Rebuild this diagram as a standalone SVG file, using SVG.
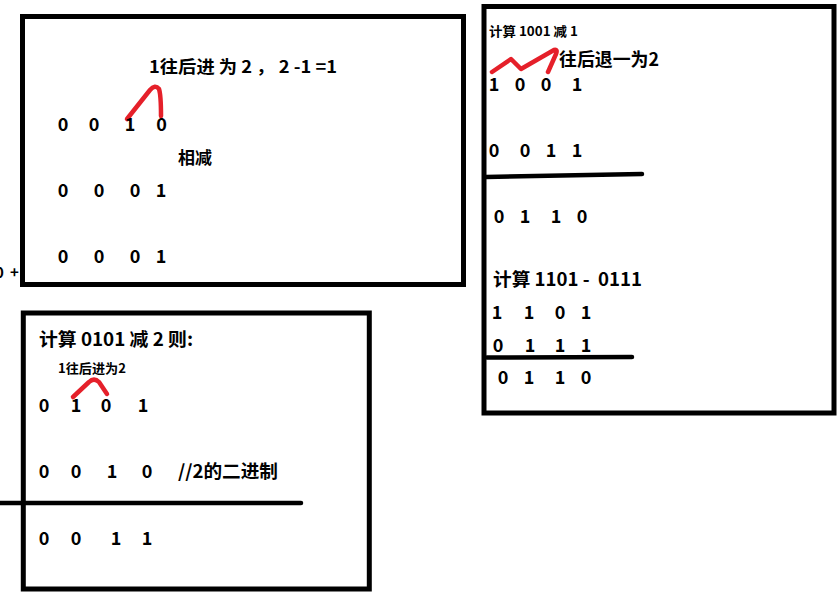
<svg xmlns="http://www.w3.org/2000/svg" width="839" height="592" viewBox="0 0 839 592">
<style>
.box{fill:none;stroke:#000;stroke-width:5}
.rule{fill:none;stroke:#000;stroke-width:4.5;stroke-linecap:round}
.red{fill:none;stroke:#e5202a;stroke-width:4.5;stroke-linecap:round;stroke-linejoin:round}
text{font-family:"Noto Sans CJK SC","Liberation Sans",sans-serif;font-weight:bold;fill:#000;font-size:18px}
.d{text-anchor:middle}
.s{font-size:13px}
</style>
<rect width="839" height="592" fill="#fff"/>

<g id="box1">
<rect class="box" x="22.5" y="16.5" width="441" height="268"/>
<text x="149" y="73" textLength="188" lengthAdjust="spacingAndGlyphs" style="font-size:17px">1往后进 为 2 ， 2 -1 =1</text>
<path class="red" d="M127,119 L150,90 Q155,84 159,89 Q161,95 161,116"/>
<text class="d" y="131" x="63">0</text>
<text class="d" y="131" x="94">0</text>
<text class="d" y="131" x="130">1</text>
<text class="d" y="131" x="161.5">0</text>
<text x="178" y="164" style="font-size:17px">相减</text>
<text class="d" y="197" x="63">0</text>
<text class="d" y="197" x="99">0</text>
<text class="d" y="197" x="135">0</text>
<text class="d" y="197" x="161">1</text>
<text class="d" y="263" x="63">0</text>
<text class="d" y="263" x="99">0</text>
<text class="d" y="263" x="135">0</text>
<text class="d" y="263" x="161">1</text>
<text x="-5 4 10" y="278" style="font-size:15px">0 +</text>
</g>

<g id="box2">
<rect class="box" x="484" y="6.5" width="350" height="406.5"/>
<text class="s" x="489" y="36" textLength="89" lengthAdjust="spacingAndGlyphs">计算 1001 减 1</text>
<path class="red" d="M492,72 L511,59 L521,69 L554,50 Q558,49 556,54 L548,72"/>
<text x="559" y="66" textLength="100" lengthAdjust="spacingAndGlyphs">往后退一为2</text>
<text class="d" y="91" x="494">1</text>
<text class="d" y="91" x="520">0</text>
<text class="d" y="91" x="546">0</text>
<text class="d" y="91" x="577">1</text>
<text class="d" y="157" x="494">0</text>
<text class="d" y="157" x="525">0</text>
<text class="d" y="157" x="551">1</text>
<text class="d" y="157" x="577">1</text>
<text class="d" y="223" x="499">0</text>
<text class="d" y="223" x="525">1</text>
<text class="d" y="223" x="556">1</text>
<text class="d" y="223" x="582">0</text>
<text x="493" y="286" textLength="149" lengthAdjust="spacingAndGlyphs" style="white-space:pre">计算 1101 -  0111</text>
<text class="d" y="319" x="497">1</text>
<text class="d" y="319" x="529">1</text>
<text class="d" y="319" x="560">0</text>
<text class="d" y="319" x="586">1</text>
<text class="d" y="352" x="498">0</text>
<text class="d" y="352" x="530">1</text>
<text class="d" y="352" x="560">1</text>
<text class="d" y="352" x="586">1</text>
<text class="d" y="384" x="503">0</text>
<text class="d" y="384" x="529">1</text>
<text class="d" y="384" x="560">1</text>
<text class="d" y="384" x="586">0</text>
</g>

<g id="box3">
<rect class="box" x="23.3" y="313" width="346" height="276"/>
<text x="39" y="346" textLength="154" lengthAdjust="spacingAndGlyphs">计算 0101 减 2 则:</text>
<text class="s" x="58" y="373" textLength="68" lengthAdjust="spacingAndGlyphs">1往后进为2</text>
<path class="red" d="M73,397 L89,382 Q94,377 99,382 L107,394"/>
<text class="d" y="412" x="44">0</text>
<text class="d" y="412" x="76">1</text>
<text class="d" y="412" x="106">0</text>
<text class="d" y="412" x="143">1</text>
<text class="d" y="478" x="44">0</text>
<text class="d" y="478" x="76">0</text>
<text class="d" y="478" x="112">1</text>
<text class="d" y="478" x="147">0</text>
<text x="178" y="478" textLength="100" lengthAdjust="spacingAndGlyphs">//2的二进制</text>
<text class="d" y="545" x="44">0</text>
<text class="d" y="545" x="76">0</text>
<text class="d" y="545" x="116">1</text>
<text class="d" y="545" x="147">1</text>
</g>

<g id="connectors">
<path class="rule" d="M486,177 L642,174"/>
<path class="rule" d="M487,357.5 L632,357"/>
<path class="rule" d="M-2,503 L301,503"/>
</g>
</svg>
